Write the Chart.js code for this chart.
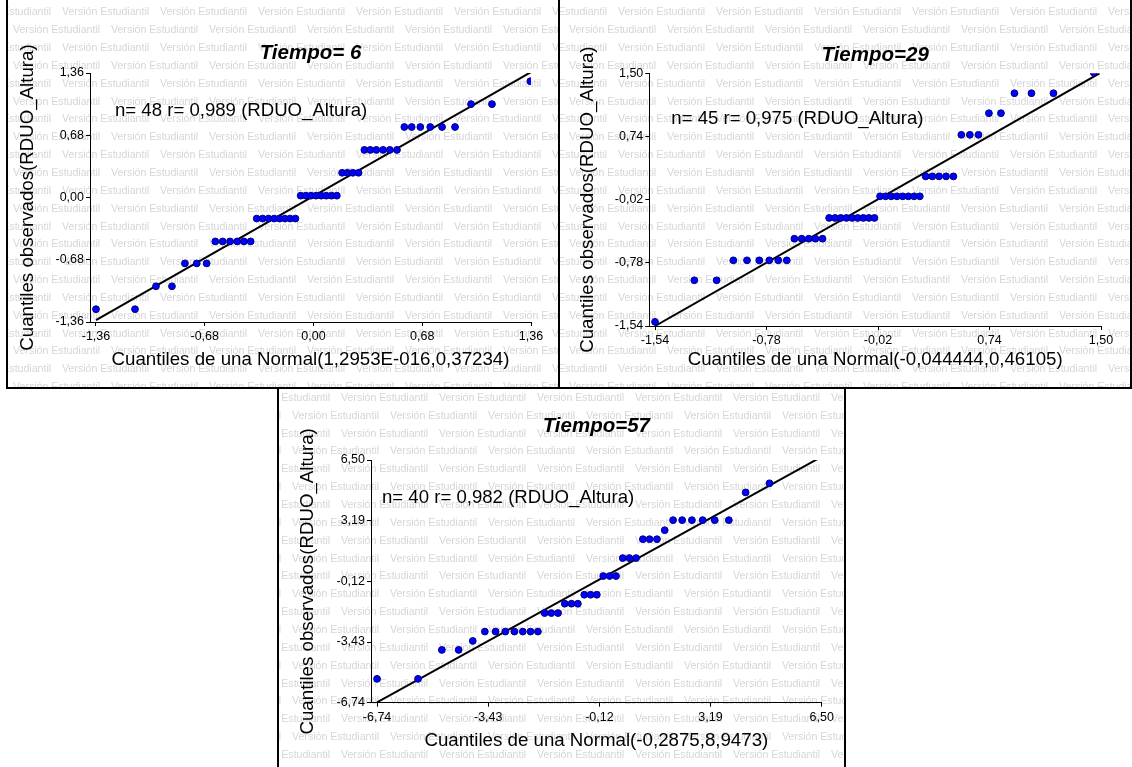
<!DOCTYPE html>
<html>
<head>
<meta charset="utf-8">
<script src="https://cdn.jsdelivr.net/npm/chart.js@4.4.0/dist/chart.umd.min.js"></script>
<style>
  body { margin: 0; width: 1132px; height: 767px; background: #fff; overflow: hidden; position: relative; }
  .frame { position: absolute; box-sizing: border-box; border: 2px solid #000; background: #fff; }
  .frame canvas { position: absolute; left: 0; top: 0; }
</style>
</head>
<body>
<div class="frame" style="left:6px;top:-2px;width:554px;height:391px"><canvas id="c6" width="550" height="387"></canvas></div>
<div class="frame" style="left:558px;top:-2px;width:574px;height:391px"><canvas id="c29" width="570" height="387"></canvas></div>
<div class="frame" style="left:277px;top:387px;width:569px;height:382px"><canvas id="c57" width="565" height="378"></canvas></div>
<script>
// Tiempo = 6 (n = 48)
const t6Theo = [-1.36, -1.116, -0.985, -0.885, -0.804, -0.73, -0.668, -0.614, -0.568, -0.522, -0.477, -0.435, -0.393,
  -0.355, -0.318, -0.282, -0.246, -0.212, -0.179, -0.146, -0.113,
  -0.080, -0.048, -0.016, 0.016, 0.048, 0.080, 0.113, 0.146,
  0.179, 0.212, 0.246, 0.282, 0.318, 0.355, 0.393, 0.435, 0.477, 0.522,
  0.568, 0.614, 0.668, 0.73, 0.804, 0.885, 0.985, 1.116, 1.356];
const t6Obs = [-1.22, -1.22, -0.97, -0.97, -0.72, -0.72, -0.72, -0.48, -0.48, -0.48, -0.48, -0.48, -0.48,
  -0.23, -0.23, -0.23, -0.23, -0.23, -0.23, -0.23, -0.23,
  0.02, 0.02, 0.02, 0.02, 0.02, 0.02, 0.02, 0.02,
  0.27, 0.27, 0.27, 0.27, 0.52, 0.52, 0.52, 0.52, 0.52, 0.52,
  0.77, 0.77, 0.77, 0.77, 0.77, 0.77, 1.02, 1.02, 1.27];
const t6FitX = [-1.36, 1.36];
const t6FitY = [-1.34, 1.37];
const t6Ticks = [-1.36, -0.68, 0, 0.68, 1.36];

// Tiempo = 29 (n = 45)
const t29Theo = [-1.54, -1.272, -1.12, -1.006, -0.913, -0.829, -0.761, -0.700, -0.642,
  -0.59, -0.54, -0.492, -0.447, -0.398,
  -0.353, -0.313, -0.274, -0.235, -0.196, -0.158, -0.120, -0.082, -0.044,
  -0.006, 0.032, 0.070, 0.109, 0.148, 0.187, 0.226, 0.265,
  0.305, 0.350, 0.396, 0.444, 0.494, 0.548, 0.606, 0.665,
  0.736, 0.818, 0.910, 1.026, 1.176, 1.45];
const t29Obs = [-1.49, -0.99, -0.99, -0.75, -0.75, -0.75, -0.75, -0.75, -0.75,
  -0.49, -0.49, -0.49, -0.49, -0.49,
  -0.24, -0.24, -0.24, -0.24, -0.24, -0.24, -0.24, -0.24, -0.24,
  0.02, 0.02, 0.02, 0.02, 0.02, 0.02, 0.02, 0.02,
  0.26, 0.26, 0.26, 0.26, 0.26, 0.76, 0.76, 0.76,
  1.02, 1.02, 1.26, 1.26, 1.26, 1.51];
const t29FitX = [-1.54, 1.49];
const t29FitY = [-1.54, 1.50];
const t29Ticks = [-1.54, -0.78, -0.02, 0.74, 1.50];

// Tiempo = 57 (n = 40)
const t57Theo = [-6.74, -5.52, -4.81, -4.31, -3.89, -3.53, -3.21, -2.92, -2.65, -2.40, -2.17, -1.95,
  -1.75, -1.55, -1.35, -1.15, -0.95, -0.76, -0.57, -0.38, -0.195, -0.005,
  0.185, 0.375, 0.575, 0.775, 0.975, 1.175, 1.375, 1.595, 1.825,
  2.075, 2.345, 2.635, 2.955, 3.315, 3.735, 4.235, 4.945, 6.165];
const t57Obs = [-5.44, -5.44, -3.86, -3.86, -3.37, -2.86, -2.86, -2.86, -2.86, -2.86, -2.86, -2.86,
  -1.85, -1.85, -1.85, -1.34, -1.34, -1.34, -0.85, -0.85, -0.85, 0.17,
  0.17, 0.17, 1.15, 1.15, 1.15, 2.18, 2.18, 2.18, 2.67,
  3.22, 3.22, 3.22, 3.22, 3.22, 3.22, 4.73, 5.23, 6.74];
const t57FitX = [-6.74, 6.50];
const t57FitY = [-6.72, 6.68];
const t57Ticks = [-6.74, -3.43, -0.12, 3.19, 6.50];

const FONT = '"Liberation Sans", Arial, sans-serif';
const fmt = v => v.toFixed(2).replace('.', ',');

// light grey "Versión Estudiantil" pattern behind each panel
const watermark = {
  id: 'watermark',
  beforeDraw(chart, args, opts) {
    const ctx = chart.ctx;
    ctx.save();
    ctx.fillStyle = '#fff';
    ctx.fillRect(0, 0, chart.width, chart.height);
    ctx.font = '10.6px ' + FONT;
    ctx.fillStyle = '#d6d6d6';
    ctx.textBaseline = 'middle';
    let row = 0;
    for (let y = opts.y0; y < chart.height + 10; y += 17.85, row++) {
      const start = (row % 2 === 0 ? opts.xA : opts.xA - 49) - 196;
      for (let x = start; x < chart.width; x += 98) ctx.fillText('Versión Estudiantil', x, y);
    }
    ctx.restore();
  }
};

// "n= .. r= .." label inside the plot
const statsText = {
  id: 'statsText',
  afterDatasetsDraw(chart, args, opts) {
    const ctx = chart.ctx, a = chart.chartArea;
    ctx.save();
    ctx.font = '18.6px ' + FONT;
    ctx.fillStyle = '#000';
    ctx.textBaseline = 'middle';
    ctx.fillText(opts.text, a.left + opts.dx, a.top + opts.dy);
    ctx.restore();
  }
};

function makeChart(id, c) {
  const scaleBase = {
    type: 'linear',
    grid: { display: true, drawOnChartArea: false, drawTicks: true, tickLength: 4, color: '#000', lineWidth: 1 },
    border: { display: true, color: '#000', width: 1 },
    title: { display: true, color: '#000', font: { family: FONT, size: 18.7 }, padding: 0 }
  };
  new Chart(document.getElementById(id), {
    type: 'scatter',
    data: {
      datasets: [
        {
          data: c.theo.map((x, i) => ({ x, y: c.obs[i] })),
          backgroundColor: '#0000ff', borderColor: '#00007a', borderWidth: 1,
          pointRadius: 3.4, pointHoverRadius: 3.4, order: 0
        },
        {
          type: 'line',
          data: c.fitX.map((x, i) => ({ x, y: c.fitY[i] })),
          borderColor: '#000', borderWidth: 2, pointRadius: 0, fill: false, order: 1
        }
      ]
    },
    options: {
      responsive: false,
      animation: false,
      devicePixelRatio: 1,
      layout: { padding: { left: c.pad.l, right: c.pad.r, top: 0, bottom: c.pad.b } },
      scales: {
        x: {
          ...scaleBase,
          min: c.xmin, max: c.ticks[c.ticks.length - 1],
          afterBuildTicks: s => { s.ticks = c.ticks.map(v => ({ value: v })); },
          afterFit: s => { s.height = c.xH; },
          ticks: { autoSkip: false, maxRotation: 0, padding: 3, color: '#000', font: { family: FONT, size: 12.5 }, callback: v => fmt(v) },
          title: { ...scaleBase.title, text: c.xTitle }
        },
        y: {
          ...scaleBase,
          min: c.ticks[0], max: c.ticks[c.ticks.length - 1],
          afterBuildTicks: s => { s.ticks = c.ticks.map(v => ({ value: v })); },
          afterFit: s => { s.width = c.yW; },
          ticks: { autoSkip: false, padding: 2, color: '#000', font: { family: FONT, size: 12.5 }, callback: v => fmt(v) },
          title: { ...scaleBase.title, text: 'Cuantiles observados(RDUO_Altura)' }
        }
      },
      plugins: {
        legend: { display: false },
        tooltip: { enabled: false },
        title: {
          display: true, text: c.title, fullSize: false, color: '#000',
          font: { family: FONT, size: 20.5, weight: 'bold', style: 'italic' },
          padding: { top: c.tPad[0], bottom: c.tPad[1] }
        },
        watermark: { y0: c.wm[0], xA: c.wm[1] },
        statsText: { text: c.stats, dx: c.stat[0], dy: c.stat[1] }
      }
    },
    plugins: [watermark, statsText]
  });
}

makeChart('c6', {
  theo: t6Theo, obs: t6Obs, fitX: t6FitX, fitY: t6FitY, ticks: t6Ticks,
  xmin: -1.3975, title: 'Tiempo= 6', stats: 'n= 48 r= 0,989 (RDUO_Altura)',
  xTitle: 'Cuantiles de una Normal(1,2953E-016,0,37234)',
  pad: { l: 8.8, r: 27, b: 15.8 }, yW: 73.2, xH: 49.2, tPad: [40.7, 7.7],
  wm: [12.4, 54], stat: [25, 38]
});
makeChart('c29', {
  theo: t29Theo, obs: t29Obs, fitX: t29FitX, fitY: t29FitY, ticks: t29Ticks,
  xmin: -1.579, title: 'Tiempo=29', stats: 'n= 45 r= 0,975 (RDUO_Altura)',
  xTitle: 'Cuantiles de una Normal(-0,044444,0,46105)',
  pad: { l: 16.8, r: 29, b: 15.8 }, yW: 72.5, xH: 45.2, tPad: [42.7, 6.0],
  wm: [12.4, 58], stat: [22, 46]
});
makeChart('c57', {
  theo: t57Theo, obs: t57Obs, fitX: t57FitX, fitY: t57FitY, ticks: t57Ticks,
  xmin: -6.92, title: 'Tiempo=57', stats: 'n= 40 r= 0,982 (RDUO_Altura)',
  xTitle: 'Cuantiles de una Normal(-0,2875,8,9473)',
  pad: { l: 17.8, r: 22.3, b: 14.8 }, yW: 74.2, xH: 49.5, tPad: [24.7, 21.7],
  wm: [9, 62], stat: [11, 38]
});
</script>
</body>
</html>
